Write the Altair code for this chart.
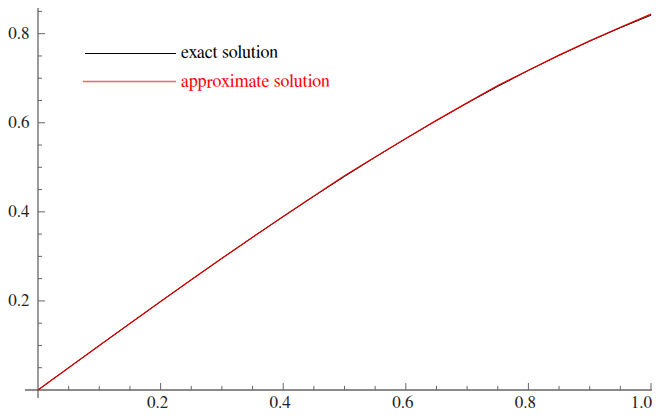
import altair as alt
import pandas as pd

# ---- data ----
x_vals = [0.0, 0.05, 0.10, 0.15, 0.20, 0.25, 0.30, 0.35, 0.40, 0.45, 0.50,
          0.55, 0.60, 0.65, 0.70, 0.75, 0.80, 0.85, 0.90, 0.95, 1.00]
y_exact = [0.0, 0.0500, 0.0998, 0.1494, 0.1987, 0.2474, 0.2955, 0.3429, 0.3894,
           0.4350, 0.4794, 0.5227, 0.5646, 0.6052, 0.6442, 0.6816, 0.7174,
           0.7513, 0.7833, 0.8134, 0.8415]
y_approx = [0.0, 0.0500, 0.0998, 0.1494, 0.1987, 0.2476, 0.2956, 0.3430, 0.3896,
            0.4356, 0.4812, 0.5232, 0.5648, 0.6055, 0.6446, 0.6836, 0.7180,
            0.7518, 0.7840, 0.8145, 0.8440]

x_major = [0.2, 0.4, 0.6, 0.8]
x_major_labels = ["0.2", "0.4", "0.6", "0.8"]
x_last = [1.0]
x_last_label = ["1.0"]
x_minor = [0.05, 0.10, 0.15, 0.25, 0.30, 0.35, 0.45, 0.50, 0.55,
           0.65, 0.70, 0.75, 0.85, 0.90, 0.95]
y_major = [0.2, 0.4, 0.6, 0.8]
y_major_labels = ["0.2", "0.4", "0.6", "0.8"]
y_minor = [0.05, 0.10, 0.15, 0.25, 0.30, 0.35, 0.45, 0.50, 0.55,
           0.65, 0.70, 0.75, 0.85]

x_extent = [-0.0212, 1.0016]
y_extent = [-0.018, 0.8577]

series_names = ["exact solution", "approximate solution"]

FONT = "FreeSerif, 'Liberation Serif', 'Times New Roman', serif"
AXIS_COLOR = "#666666"
W, H = 627, 390

xs = alt.Scale(domain=x_extent, nice=False, zero=False)
ys = alt.Scale(domain=y_extent, nice=False, zero=False)

# pixel position of value 0 on each scale (plot coords)
x0_px = W * (0 - x_extent[0]) / (x_extent[1] - x_extent[0])
y0_px = H - H * (0 - y_extent[0]) / (y_extent[1] - y_extent[0])

curves = pd.DataFrame({
    "x": x_vals * 2,
    "y": y_exact + y_approx,
    "s": [series_names[0]] * len(x_vals) + [series_names[1]] * len(x_vals),
})

exact_line = alt.Chart(curves[curves.s == series_names[0]]).mark_line(
    color="black", strokeWidth=1
).encode(x=alt.X("x:Q", scale=xs, axis=None), y=alt.Y("y:Q", scale=ys, axis=None))

approx_line = alt.Chart(curves[curves.s == series_names[1]]).mark_line(
    color="#dd0000", strokeWidth=1.3
).encode(x=alt.X("x:Q", scale=xs, axis=None), y=alt.Y("y:Q", scale=ys, axis=None))

# axis lines
x_axis_df = pd.DataFrame({"x": [x_extent[0]], "x2": [x_extent[1]], "y": [0.0]})
x_axis = alt.Chart(x_axis_df).mark_rule(color=AXIS_COLOR, strokeWidth=1.3).encode(
    x=alt.X("x:Q", scale=xs, axis=None), x2="x2:Q", y=alt.Y("y:Q", scale=ys, axis=None))
y_axis_df = pd.DataFrame({"y": [y_extent[0]], "y2": [y_extent[1]], "x": [0.0]})
y_axis = alt.Chart(y_axis_df).mark_rule(color=AXIS_COLOR, strokeWidth=1.3).encode(
    y=alt.Y("y:Q", scale=ys, axis=None), y2="y2:Q", x=alt.X("x:Q", scale=xs, axis=None))

# ticks
def xticks(vals, length):
    return alt.Chart(pd.DataFrame({"x": vals})).mark_rule(color=AXIS_COLOR, strokeWidth=1).encode(
        x=alt.X("x:Q", scale=xs, axis=None),
        y=alt.value(y0_px), y2=alt.value(y0_px - length))

def yticks(vals, length):
    return alt.Chart(pd.DataFrame({"y": vals})).mark_rule(color=AXIS_COLOR, strokeWidth=1).encode(
        y=alt.Y("y:Q", scale=ys, axis=None),
        x=alt.value(x0_px), x2=alt.value(x0_px + length))

x_lab = alt.Chart(pd.DataFrame({"x": x_major, "t": x_major_labels})).mark_text(
    font=FONT, fontSize=17, color="#222222", align="center", baseline="alphabetic", dx=-3
).encode(x=alt.X("x:Q", scale=xs, axis=None), y=alt.value(y0_px + 18), text="t:N")

x_lab_last = alt.Chart(pd.DataFrame({"x": x_last, "t": x_last_label})).mark_text(
    font=FONT, fontSize=17, color="#222222", align="right", baseline="alphabetic", dx=1
).encode(x=alt.X("x:Q", scale=xs, axis=None), y=alt.value(y0_px + 18), text="t:N")

y_lab = alt.Chart(pd.DataFrame({"y": y_major, "t": y_major_labels})).mark_text(
    font=FONT, fontSize=17, color="#222222", align="right", baseline="middle"
).encode(y=alt.Y("y:Q", scale=ys, axis=None), x=alt.value(x0_px - 8.5), text="t:N")

# legend
one = pd.DataFrame({"a": [0]})
leg_black = alt.Chart(one).mark_rule(color="black", strokeWidth=1).encode(
    x=alt.value(60), x2=alt.value(151), y=alt.value(45.5))
leg_red = alt.Chart(one).mark_rule(color="#ff6060", strokeWidth=1.4).encode(
    x=alt.value(58), x2=alt.value(151), y=alt.value(73.5))
leg_t1 = alt.Chart(pd.DataFrame({"t": [series_names[0]]})).mark_text(
    font=FONT, fontSize=18, color="black", align="left", baseline="alphabetic"
).encode(x=alt.value(156), y=alt.value(50), text="t:N")
leg_t2 = alt.Chart(pd.DataFrame({"t": [series_names[1]]})).mark_text(
    font=FONT, fontSize=18, color="red", align="left", baseline="alphabetic"
).encode(x=alt.value(156), y=alt.value(79), text="t:N")

chart = alt.layer(
    x_axis, y_axis,
    xticks(x_minor, 4), xticks(x_major + x_last, 7),
    yticks(y_minor, 4), yticks(y_major, 7),
    x_lab, x_lab_last, y_lab,
    exact_line, approx_line,
    leg_black, leg_red, leg_t1, leg_t2,
).properties(
    width=W, height=H,
    padding={"left": 17, "top": 0, "right": 0, "bottom": 14},
    autosize=alt.AutoSizeParams(type="none"),
    background="white",
).configure_view(stroke=None)

chart.save("out.html", embed_options={"renderer": "svg", "actions": False})
